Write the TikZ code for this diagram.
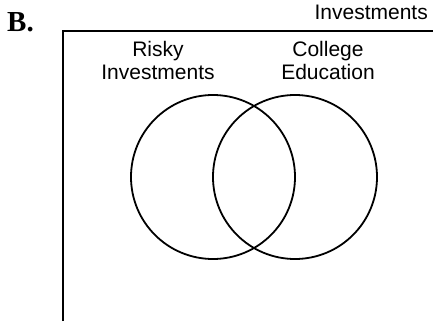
\documentclass[tikz,border=0pt]{standalone}
\usepackage{fontspec}
\setmainfont{Liberation Sans}
\newfontfamily\labelserif{Liberation Serif}
\usetikzlibrary{positioning}

\begin{document}
\begin{tikzpicture}[x=1pt, y=-1pt,
  settext/.style={inner sep=0pt, align=center,
                  font=\fontsize{21}{23}\selectfont},
  setcircle/.style={circle, draw, line width=1.8pt,
                    minimum size=164pt, inner sep=0pt},
  frame/.style={line width=1.8pt}
]
\useasboundingbox (0,0) rectangle (433,321);
% universe frame
\coordinate (corner) at (63,31);
\draw[frame] (corner |- 0,321) -- (corner) -- (433,31);
\node[inner sep=0pt, anchor=base west, font=\labelserif\bfseries\fontsize{29}{30}\selectfont]
  (part) at (7,32) {B.};
\node[settext, anchor=base east] (universe) at (428,20) {Investments};
% the two sets
\node[setcircle] (risky) at (213,177) {};
\node[setcircle] (college) at (295,177) {};
\node[settext] (riskylbl) at (158,60) {Risky\\Investments};
\node[settext] (collegelbl) at (328,60) {College\\Education};
\end{tikzpicture}
\end{document}
